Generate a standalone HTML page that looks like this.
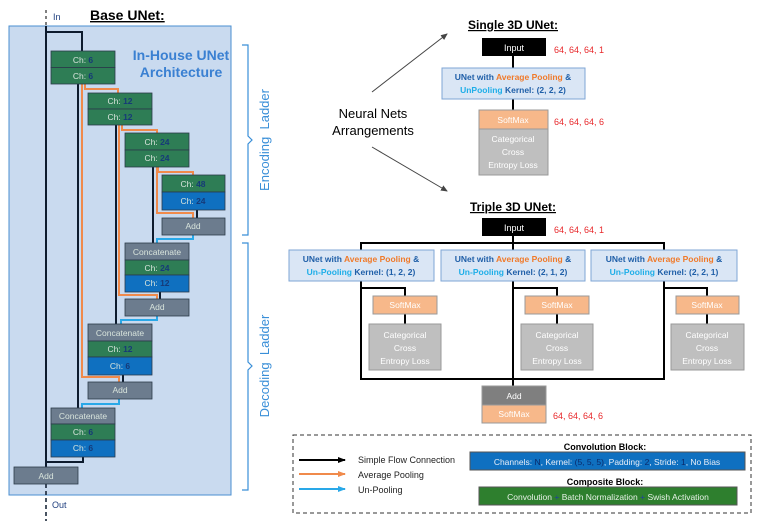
<!DOCTYPE html>
<html><head><style>body{margin:0;background:#fff}svg{display:block;font-family:"Liberation Sans",sans-serif}</style></head><body>
<svg width="757" height="521" viewBox="0 0 757 521" xmlns="http://www.w3.org/2000/svg">
<defs>
<marker id="ak" markerWidth="8" markerHeight="8" refX="7" refY="4" orient="auto" markerUnits="userSpaceOnUse"><path d="M0,1 L8,4 L0,7z" fill="#000"/></marker>
<marker id="ao" markerWidth="8" markerHeight="8" refX="7" refY="4" orient="auto" markerUnits="userSpaceOnUse"><path d="M0,1 L8,4 L0,7z" fill="#f08a4b"/></marker>
<marker id="ab" markerWidth="8" markerHeight="8" refX="7" refY="4" orient="auto" markerUnits="userSpaceOnUse"><path d="M0,1 L8,4 L0,7z" fill="#29a8e8"/></marker>
<marker id="ag" markerWidth="7" markerHeight="7" refX="6" refY="3.5" orient="auto" markerUnits="userSpaceOnUse"><path d="M0,0.5 L7,3.5 L0,6.5z" fill="#444"/></marker>
</defs>
<!-- left panel -->
<text x="90" y="20" font-size="14" font-weight="bold" text-decoration="underline">Base UNet:</text>
<line x1="46" y1="10" x2="46" y2="26" stroke="#000" stroke-dasharray="3,3"/>
<text x="53" y="20" font-size="9" fill="#1f3f7f">In</text>
<rect x="9" y="26" width="222" height="469" fill="#c9daef" stroke="#4a8fd0"/>
<text x="181" y="60" font-size="14" font-weight="bold" fill="#3a80d2" text-anchor="middle">In-House UNet</text>
<text x="181" y="77" font-size="14" font-weight="bold" fill="#3a80d2" text-anchor="middle">Architecture</text>
<g fill="none" stroke-width="2">
<path d="M46,26 V467 M46,32 H82 V51" stroke="#0d1b2e"/>
<path d="M78,84 V408 M116,125 V324 M153,167 V243 M197,210 V218 M160,292 V299 M123,375 V382 M83,457 V462 H46" stroke="#0d1b2e"/>
<path d="M85,84 V89 H118 V93 M122,125 V130 H157 V133 M158,167 V172 H193 V175 M82,84 V377 H119 V382 M119,125 V295 H157 V299 M157,167 V213 H193 V218" stroke="#f08a4b"/>
<path d="M193,235 V239 H157 V243 M157,316 V320 H121 V324 M119,399 V404 H82 V408" stroke="#29a8e8"/>
<line x1="46" y1="484" x2="46" y2="521" stroke="#0d1b2e" stroke-dasharray="4,3" stroke-width="1.5"/>
</g>
<text x="52" y="508" font-size="9" fill="#1f3f7f">Out</text>
<g font-size="8" text-anchor="middle" stroke="#2b3a4a" stroke-width="0.8">
<rect x="51" y="51" width="64" height="16.5" fill="#2e7d55"/><rect x="51" y="67.5" width="64" height="16.5" fill="#2e7d55"/>
<rect x="88" y="93" width="64" height="16" fill="#2e7d55"/><rect x="88" y="109" width="64" height="16" fill="#2e7d55"/>
<rect x="125" y="133" width="64" height="17" fill="#2e7d55"/><rect x="125" y="150" width="64" height="17" fill="#2e7d55"/>
<rect x="162" y="175" width="63" height="17" fill="#2e7d55"/><rect x="162" y="192" width="63" height="18" fill="#0f70c0"/>
<rect x="162" y="218" width="63" height="17" fill="#6c7c8e"/>
<rect x="125" y="243" width="64" height="17" fill="#6c7c8e"/><rect x="125" y="260" width="64" height="15" fill="#2e7d55"/><rect x="125" y="275" width="64" height="17" fill="#0f70c0"/>
<rect x="125" y="299" width="64" height="17" fill="#6c7c8e"/>
<rect x="88" y="324" width="64" height="17" fill="#6c7c8e"/><rect x="88" y="341" width="64" height="16" fill="#2e7d55"/><rect x="88" y="357" width="64" height="18" fill="#0f70c0"/>
<rect x="88" y="382" width="64" height="17" fill="#6c7c8e"/>
<rect x="51" y="408" width="64" height="16" fill="#6c7c8e"/><rect x="51" y="424" width="64" height="16" fill="#2e7d55"/><rect x="51" y="440" width="64" height="17" fill="#0f70c0"/>
<rect x="14" y="467" width="64" height="17" fill="#6c7c8e"/>
</g>
<g font-size="8.5" text-anchor="middle" fill="#d8e4dc">
<text x="83" y="63">Ch: <tspan fill="#163a78" font-weight="bold">6</tspan></text>
<text x="83" y="79">Ch: <tspan fill="#163a78" font-weight="bold">6</tspan></text>
<text x="120" y="104">Ch: <tspan fill="#163a78" font-weight="bold">12</tspan></text>
<text x="120" y="120">Ch: <tspan fill="#163a78" font-weight="bold">12</tspan></text>
<text x="157" y="145">Ch: <tspan fill="#163a78" font-weight="bold">24</tspan></text>
<text x="157" y="161">Ch: <tspan fill="#163a78" font-weight="bold">24</tspan></text>
<text x="193" y="187">Ch: <tspan fill="#163a78" font-weight="bold">48</tspan></text>
<text x="193" y="204">Ch: <tspan fill="#163a78" font-weight="bold">24</tspan></text>
<text x="193" y="229">Add</text>
<text x="157" y="255">Concatenate</text>
<text x="157" y="271">Ch: <tspan fill="#163a78" font-weight="bold">24</tspan></text>
<text x="157" y="286">Ch: <tspan fill="#163a78" font-weight="bold">12</tspan></text>
<text x="157" y="310">Add</text>
<text x="120" y="336">Concatenate</text>
<text x="120" y="352">Ch: <tspan fill="#163a78" font-weight="bold">12</tspan></text>
<text x="120" y="369">Ch: <tspan fill="#163a78" font-weight="bold">6</tspan></text>
<text x="120" y="393">Add</text>
<text x="83" y="419">Concatenate</text>
<text x="83" y="435">Ch: <tspan fill="#163a78" font-weight="bold">6</tspan></text>
<text x="83" y="451">Ch: <tspan fill="#163a78" font-weight="bold">6</tspan></text>
<text x="46" y="479">Add</text>
</g>
<path d="M242,45 H248 V136 L252,140 L248,144 V235 H242 M242,243 H248 V362 L252,366 L248,370 V490 H242" fill="none" stroke="#3a8fd8" stroke-width="1.2"/>
<text transform="translate(269,140) rotate(-90)" font-size="13" fill="#3a8fd8" text-anchor="middle" xml:space="preserve">Encoding  Ladder</text>
<text transform="translate(269,366) rotate(-90)" font-size="13" fill="#3a8fd8" text-anchor="middle" xml:space="preserve">Decoding  Ladder</text>
<!-- middle -->
<text x="373" y="118" font-size="13" text-anchor="middle">Neural Nets</text>
<text x="373" y="135" font-size="13" text-anchor="middle">Arrangements</text>
<line x1="372" y1="92" x2="447" y2="34" stroke="#444" marker-end="url(#ag)"/>
<line x1="372" y1="147" x2="447" y2="191" stroke="#444" marker-end="url(#ag)"/>
<!-- single -->
<text x="513" y="29" font-size="12" font-weight="bold" text-anchor="middle" text-decoration="underline">Single 3D UNet:</text>
<g stroke="#000" stroke-width="2"><line x1="513" y1="56" x2="513" y2="68"/><line x1="513" y1="99" x2="513" y2="110"/></g>
<rect x="482" y="38" width="64" height="18" fill="#000"/>
<text x="514" y="51" font-size="9" fill="#fff" text-anchor="middle">Input</text>
<g font-size="9" fill="#e8282b"><text x="554" y="53">64, 64, 64, 1</text><text x="554" y="125">64, 64, 64, 6</text>
<text x="554" y="233">64, 64, 64, 1</text><text x="553" y="419">64, 64, 64, 6</text></g>
<rect x="442" y="68" width="143" height="31" fill="#dae6f5" stroke="#7fa6d5"/>
<!-- triple structures -->
<text x="513" y="211" font-size="12" font-weight="bold" text-anchor="middle" text-decoration="underline">Triple 3D UNet:</text>
<g stroke="#000" stroke-width="2" fill="none">
<path d="M513,236 V250 M361,250 V243 H664 V250"/>
<path d="M361,281 V379 H664 V281 M513,281 V386"/>
<path d="M361,288 H405 V296 M405,314 V324 M513,288 H557 V296 M557,314 V324 M664,288 H707 V296 M707,314 V324"/>
</g>
<rect x="482" y="218" width="64" height="18" fill="#000"/>
<text x="514" y="231" font-size="9" fill="#fff" text-anchor="middle">Input</text>
<g fill="#dae6f5" stroke="#7fa6d5"><rect x="289" y="250" width="145" height="31"/><rect x="441" y="250" width="144" height="31"/><rect x="591" y="250" width="146" height="31"/></g>
<g font-size="8.5" font-weight="bold" text-anchor="middle" fill="#1f5fa8">
<text x="513" y="80">UNet with <tspan fill="#f07a2a">Average Pooling</tspan> &amp;</text>
<text x="513" y="93"><tspan fill="#1eaee8">UnPooling</tspan> Kernel: (2, 2, 2)</text>
<text x="361" y="262">UNet with <tspan fill="#f07a2a">Average Pooling</tspan> &amp;</text>
<text x="361" y="275"><tspan fill="#1eaee8">Un-Pooling</tspan> Kernel: (1, 2, 2)</text>
<text x="513" y="262">UNet with <tspan fill="#f07a2a">Average Pooling</tspan> &amp;</text>
<text x="513" y="275"><tspan fill="#1eaee8">Un-Pooling</tspan> Kernel: (2, 1, 2)</text>
<text x="664" y="262">UNet with <tspan fill="#f07a2a">Average Pooling</tspan> &amp;</text>
<text x="664" y="275"><tspan fill="#1eaee8">Un-Pooling</tspan> Kernel: (2, 2, 1)</text>
</g>
<rect x="479" y="110" width="69" height="19" fill="#f7b88a" stroke="#999"/>
<rect x="479" y="129" width="69" height="46" fill="#bfbfbf" stroke="#999"/>
<g font-size="8.5" fill="#fff" text-anchor="middle">
<text x="513" y="123">SoftMax</text>
<text x="513" y="142">Categorical</text><text x="513" y="155">Cross</text><text x="513" y="168">Entropy Loss</text>
</g>
<g stroke="#999"><rect x="373" y="296" width="64" height="18" fill="#f7b88a"/><rect x="525" y="296" width="64" height="18" fill="#f7b88a"/><rect x="676" y="296" width="63" height="18" fill="#f7b88a"/>
<rect x="369" y="324" width="72" height="46" fill="#bfbfbf"/><rect x="521" y="324" width="72" height="46" fill="#bfbfbf"/><rect x="671" y="324" width="73" height="46" fill="#bfbfbf"/>
<rect x="482" y="386" width="64" height="19" fill="#7f7f7f"/><rect x="482" y="405" width="64" height="18" fill="#f7b88a"/></g>
<g font-size="8.5" fill="#fff" text-anchor="middle">
<text x="405" y="308">SoftMax</text><text x="557" y="308">SoftMax</text><text x="707" y="308">SoftMax</text>
<text x="405" y="338">Categorical</text><text x="405" y="351">Cross</text><text x="405" y="364">Entropy Loss</text>
<text x="557" y="338">Categorical</text><text x="557" y="351">Cross</text><text x="557" y="364">Entropy Loss</text>
<text x="707" y="338">Categorical</text><text x="707" y="351">Cross</text><text x="707" y="364">Entropy Loss</text>
<text x="514" y="399">Add</text><text x="514" y="417">SoftMax</text>
</g>
<!-- legend -->
<rect x="293" y="435" width="458" height="78" fill="none" stroke="#333" stroke-dasharray="4,3"/>
<g stroke-width="2"><line x1="299" y1="460" x2="345" y2="460" stroke="#000" marker-end="url(#ak)"/>
<line x1="299" y1="474" x2="345" y2="474" stroke="#f08a4b" marker-end="url(#ao)"/>
<line x1="299" y1="489" x2="345" y2="489" stroke="#29a8e8" marker-end="url(#ab)"/></g>
<g font-size="9" fill="#222"><text x="358" y="463">Simple Flow Connection</text><text x="358" y="478">Average Pooling</text><text x="358" y="493">Un-Pooling</text></g>
<text x="605" y="450" font-size="9" font-weight="bold" text-anchor="middle">Convolution Block:</text>
<rect x="470" y="452" width="275" height="18" fill="#0f70c0" stroke="#555"/>
<text x="607" y="465" font-size="8.5" fill="#e8eef8" text-anchor="middle">Channels: <tspan fill="#0b2a6a">N</tspan>, Kernel: <tspan fill="#0b2a6a">(5, 5, 5)</tspan>, Padding: <tspan fill="#0b2a6a">2</tspan>, Stride: <tspan fill="#0b2a6a">1</tspan>, No Bias</text>
<text x="605" y="485" font-size="9" font-weight="bold" text-anchor="middle">Composite Block:</text>
<rect x="479" y="487" width="258" height="18" fill="#2e7f2e" stroke="#555"/>
<text x="608" y="500" font-size="8.5" fill="#e8f2e8" text-anchor="middle">Convolution <tspan fill="#1f3f9f">+</tspan> Batch Normalization <tspan fill="#1f3f9f">+</tspan> Swish Activation</text>
</svg>
</body></html>
